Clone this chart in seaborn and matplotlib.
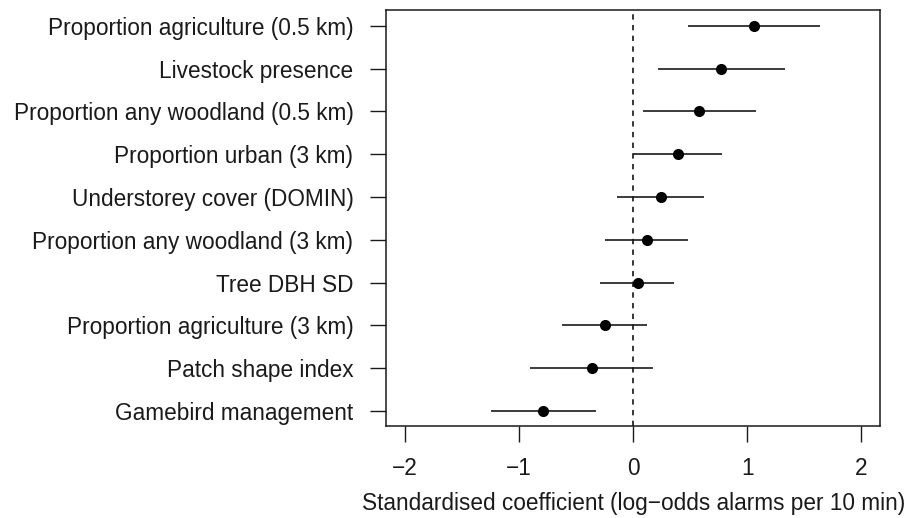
import numpy as np
import pandas as pd
import matplotlib
matplotlib.use("Agg")
import matplotlib.pyplot as plt
import seaborn as sns

# coefficient estimates with 95% intervals, top row first
variables = ["Proportion agriculture (0.5 km)", "Livestock presence",
             "Proportion any woodland (0.5 km)", "Proportion urban (3 km)",
             "Understorey cover (DOMIN)", "Proportion any woodland (3 km)",
             "Tree DBH SD", "Proportion agriculture (3 km)",
             "Patch shape index", "Gamebird management"]
estimate = [1.06, 0.77, 0.58, 0.39, 0.24, 0.12, 0.04, -0.25, -0.36, -0.79]
lower = [0.48, 0.22, 0.09, 0.00, -0.14, -0.25, -0.29, -0.62, -0.90, -1.25]
upper = [1.64, 1.33, 1.08, 0.78, 0.62, 0.48, 0.36, 0.12, 0.17, -0.33]
xticks = [-2, -1, 0, 1, 2]

df = pd.DataFrame({"var": variables, "est": estimate, "lo": lower, "hi": upper})
df["pos"] = np.arange(len(df))

sns.set_style("ticks")
plt.rcParams["font.family"] = ["Liberation Sans", "DejaVu Sans"]

fig, ax = plt.subplots(figsize=(9.17, 5.18), dpi=100)
fig.subplots_adjust(left=0.421, right=0.960, top=0.980, bottom=0.177)

ax.axvline(0, color="black", lw=1.1, ls=(0, (3.5, 3.5)), zorder=1)
ax.hlines(df["pos"], df["lo"], df["hi"], color="#1a1a1a", lw=1.2, zorder=2)
sns.scatterplot(data=df, x="est", y="pos", ax=ax, color="black", s=64,
                edgecolor="black", linewidth=0, zorder=3, legend=False)

ax.set_xlim(-2.165, 2.165)
ax.set_ylim(len(df) - 1 + 0.36, -0.36)
ax.set_xticks(xticks)
ax.set_xticklabels([str(t).replace("-", "\u2212") for t in xticks])
ax.set_yticks(df["pos"])
ax.set_yticklabels(df["var"])
ax.set_ylabel("")
ax.set_xlabel("Standardised coefficient (log\u2212odds alarms per 10 min)",
              fontsize=16.3, labelpad=9, color="#1a1a1a")

for s in ax.spines.values():
    s.set_visible(True)
    s.set_color("#1a1a1a")
    s.set_linewidth(1.1)
ax.tick_params(axis="both", direction="out", length=11.5, width=1.0,
               color="#1a1a1a", labelsize=16.3, labelcolor="#1a1a1a")
ax.tick_params(axis="x", pad=10.5)
ax.tick_params(axis="y", pad=12)

fig.savefig("out.png", dpi=100)
